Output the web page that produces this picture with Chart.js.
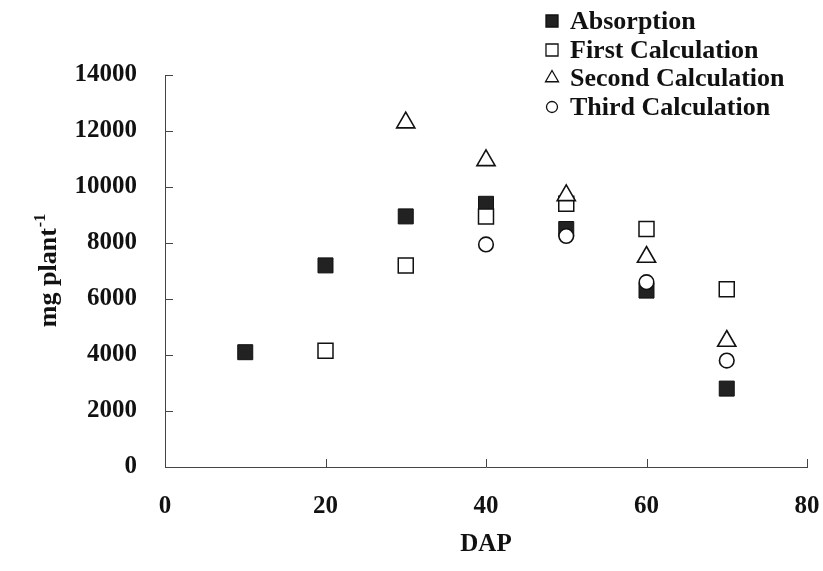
<!DOCTYPE html>
<html>
<head>
<meta charset="utf-8">
<script src="https://cdn.jsdelivr.net/npm/chart.js@4.4.0/dist/chart.umd.min.js"></script>
<style>
html, body { margin: 0; padding: 0; background: #fff; }
#wrap { width: 823px; height: 571px; }
</style>
</head>
<body>
<div id="wrap"><canvas id="chart"></canvas></div>
<script>
// values
const series_names = ['Absorption', 'First Calculation', 'Second Calculation', 'Third Calculation'];
const absorption_x = [10, 20, 30, 40, 50, 60, 70];
const absorption_y = [4100, 7200, 8950, 9400, 8500, 6300, 2800];
const first_x = [20, 30, 40, 50, 60, 70];
const first_y = [4150, 7200, 8950, 9400, 8500, 6350];
const second_x = [30, 40, 50, 60, 70];
const second_y = [12300, 10950, 9700, 7500, 4500];
const third_x = [40, 50, 60, 70];
const third_y = [7950, 8250, 6600, 3800];
const x_ticks = [0, 20, 40, 60, 80];
const y_ticks = [0, 2000, 4000, 6000, 8000, 10000, 12000, 14000];

const serif = "'Liberation Serif', 'Times New Roman', serif";
const ink = '#111';

const toPoints = (xs, ys) => xs.map((x, i) => ({x: x, y: ys[i]}));

// small inward tick marks, like the original
const innerTicks = {
    id: 'innerTicks',
    afterDraw(chart) {
        const ctx = chart.ctx;
        const xs = chart.scales.x, ys = chart.scales.y;
        const len = 8;
        ctx.save();
        ctx.strokeStyle = '#444';
        ctx.lineWidth = 1;
        for (const v of x_ticks) {
            const px = Math.round(xs.getPixelForValue(v)) + 0.5;
            ctx.beginPath();
            ctx.moveTo(px, ys.bottom);
            ctx.lineTo(px, ys.bottom - len);
            ctx.stroke();
        }
        for (const v of y_ticks) {
            const py = Math.round(ys.getPixelForValue(v)) + 0.5;
            ctx.beginPath();
            ctx.moveTo(xs.left, py);
            ctx.lineTo(xs.left + len, py);
            ctx.stroke();
        }
        ctx.restore();
    }
};

// y title with superscript
const yTitle = {
    id: 'yTitle',
    afterDraw(chart) {
        const ctx = chart.ctx;
        const ys = chart.scales.y;
        const mid = (ys.top + ys.bottom) / 2;
        ctx.save();
        ctx.translate(56, mid);
        ctx.rotate(-Math.PI / 2);
        ctx.fillStyle = ink;
        ctx.textBaseline = 'alphabetic';
        ctx.textAlign = 'left';
        ctx.font = 'bold 26px ' + serif;
        const main = 'mg plant';
        const wMain = ctx.measureText(main).width;
        ctx.font = 'bold 16px ' + serif;
        const sup = '-1';
        const wSup = ctx.measureText(sup).width;
        const start = -(wMain + wSup) / 2;
        ctx.font = 'bold 26px ' + serif;
        ctx.fillText(main, start, 0);
        ctx.font = 'bold 16px ' + serif;
        ctx.fillText(sup, start + wMain + 1, -11);
        ctx.restore();
    }
};

// legend in the top right corner
const cornerLegend = {
    id: 'cornerLegend',
    afterDraw(chart) {
        const ctx = chart.ctx;
        const rows = [21, 50, 78, 107];
        const sizes = [8.5, 8.5, 7.5, 5.5];
        ctx.save();
        chart.data.datasets.forEach((ds, i) => {
            ctx.fillStyle = ds.backgroundColor;
            ctx.strokeStyle = ds.borderColor;
            ctx.lineWidth = 1.3;
            Chart.helpers.drawPoint(ctx, {pointStyle: ds.pointStyle, radius: sizes[i], rotation: 0, borderWidth: 1.3}, 552, rows[i]);
            ctx.fillStyle = ink;
            ctx.font = 'bold 26px ' + serif;
            ctx.textBaseline = 'middle';
            ctx.textAlign = 'left';
            ctx.fillText(ds.label, 570, rows[i] + 1);
        });
        ctx.restore();
    }
};

const data = {
    datasets: [
        {
            label: series_names[0],
            data: toPoints(absorption_x, absorption_y),
            pointStyle: 'rect', pointRadius: 10.6,
            backgroundColor: '#222', borderColor: ink, borderWidth: 1,
            order: 3
        },
        {
            label: series_names[1],
            data: toPoints(first_x, first_y),
            pointStyle: 'rect', pointRadius: 10.6,
            backgroundColor: '#fff', borderColor: ink, borderWidth: 1.5,
            order: 2
        },
        {
            label: series_names[2],
            data: toPoints(second_x, second_y),
            pointStyle: 'triangle', pointRadius: 10.5,
            backgroundColor: '#fff', borderColor: ink, borderWidth: 1.6,
            order: 1
        },
        {
            label: series_names[3],
            data: toPoints(third_x, third_y),
            pointStyle: 'circle', pointRadius: 7.3,
            backgroundColor: '#fff', borderColor: ink, borderWidth: 1.6,
            order: 0
        }
    ]
};

const config = {
    type: 'scatter',
    data: data,
    options: {
        responsive: true,
        maintainAspectRatio: false,
        animation: false,
        layout: { padding: { left: 0, top: 75, right: 16, bottom: 0 } },
        plugins: {
            legend: { display: false },
            tooltip: { enabled: false }
        },
        scales: {
            x: {
                type: 'linear',
                min: 0, max: 80,
                afterFit: (scale) => { scale.height = 104; scale.paddingLeft = 0; scale.paddingRight = 0; },
                afterBuildTicks: (scale) => { scale.ticks = x_ticks.map(v => ({value: v})); },
                grid: { display: false, drawTicks: false },
                border: { display: true, color: '#444', width: 1 },
                ticks: { color: ink, font: { family: serif, size: 25, weight: 'bold' }, padding: 25, maxRotation: 0, callback: (v) => String(v) },
                title: { display: true, text: 'DAP', color: ink, font: { family: serif, size: 25, weight: 'bold' }, padding: { top: 0, bottom: 11 } }
            },
            y: {
                type: 'linear',
                min: 0, max: 14000,
                afterFit: (scale) => { scale.width = 165; scale.paddingTop = 0; scale.paddingBottom = 0; },
                afterBuildTicks: (scale) => { scale.ticks = y_ticks.map(v => ({value: v})); },
                grid: { display: false, drawTicks: false },
                border: { display: true, color: '#444', width: 1 },
                ticks: { color: ink, font: { family: serif, size: 25, weight: 'bold' }, padding: 28, callback: (v) => String(v) }
            }
        }
    },
    plugins: [innerTicks, yTitle, cornerLegend]
};

window.onload = function () {
    const ctx = document.querySelector('#chart').getContext('2d');
    const myChart = new Chart(ctx, config);
};
</script>
</body>
</html>
